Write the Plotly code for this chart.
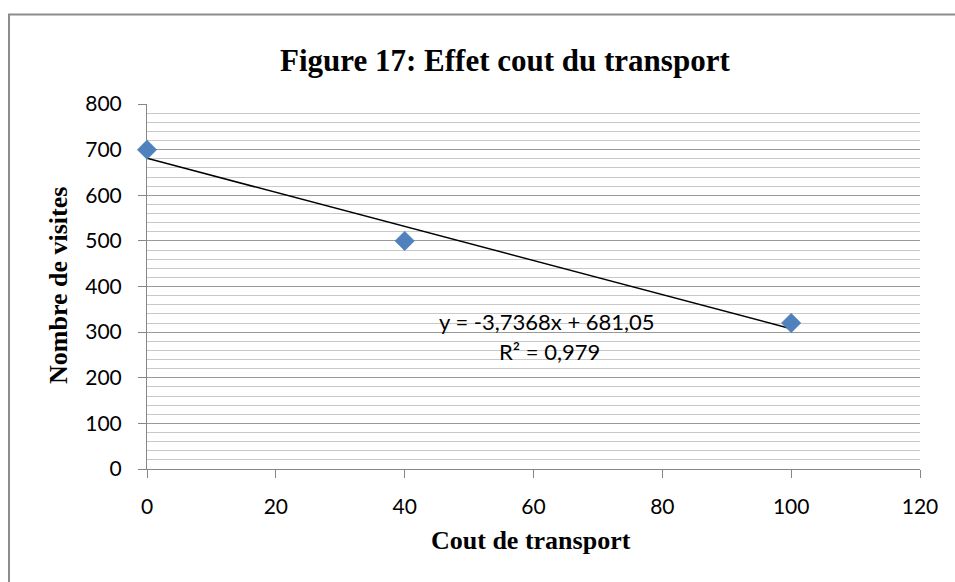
import numpy as np
import plotly.graph_objects as go

# Data
cout_transport = [0, 40, 100]
nombre_visites = [700, 500, 320]
x_ticks = [0, 20, 40, 60, 80, 100, 120]
y_ticks = [0, 100, 200, 300, 400, 500, 600, 700, 800]

slope, intercept = np.polyfit(cout_transport, nombre_visites, 1)
pred = np.polyval([slope, intercept], cout_transport)
ss_res = np.sum((np.array(nombre_visites) - pred) ** 2)
ss_tot = np.sum((np.array(nombre_visites) - np.mean(nombre_visites)) ** 2)
r2 = 1 - ss_res / ss_tot

trend_x = [min(cout_transport), max(cout_transport)]
trend_y = [slope * v + intercept for v in trend_x]

W, H = 955, 582
L, R, T, B = 147, 35, 104, 113
PW, PH = W - L - R, H - T - B

def px(xp):
    return (xp - L) / PW

def py(yp):
    return (H - B - yp) / PH

fig = go.Figure()
fig.add_trace(go.Scatter(
    x=trend_x, y=trend_y, mode="lines",
    line=dict(color="black", width=1.5), showlegend=False, hoverinfo="skip"))
fig.add_trace(go.Scatter(
    x=cout_transport, y=nombre_visites, mode="markers",
    marker=dict(symbol="diamond", size=15, color="#4F81BD",
                line=dict(color="#4A7EBB", width=0.5)),
    cliponaxis=False, showlegend=False))

tick_font = dict(family="Lato, Open Sans, sans-serif", size=21, color="black")
eq_font = dict(family="Lato, Open Sans, sans-serif", size=22, color="black")
serif_bold = "Liberation Serif, Times New Roman, serif"

fig.update_layout(
    width=W, height=H,
    margin=dict(l=L, r=R, t=T, b=B),
    paper_bgcolor="white", plot_bgcolor="white",
    xaxis=dict(range=[0, 120], tickvals=x_ticks, ticks="outside", ticklen=8,
               tickcolor="#868686", showline=True, linecolor="#868686", linewidth=1,
               showgrid=False, zeroline=False, tickfont=tick_font,
               ticklabelstandoff=11, layer="below traces"),
    yaxis=dict(range=[0, 800], tickvals=y_ticks, ticks="outside", ticklen=8,
               tickcolor="#868686", showline=True, linecolor="#868686", linewidth=1,
               showgrid=True, gridcolor="#999999", gridwidth=1, zeroline=False,
               tickfont=tick_font, ticklabelstandoff=12, layer="below traces",
               minor=dict(dtick=20, showgrid=True, gridcolor="#C8C8C8", gridwidth=1, ticks="")),
)

eq_text = "y = %sx + %s" % (f"{slope:.4f}".replace(".", ","), f"{intercept:.2f}".replace(".", ","))
r2_text = "R² = %s" % f"{r2:.3f}".replace(".", ",")

annotations = [
    dict(text="<b>Figure 17: Effet cout du transport</b>", x=px(505), y=py(60),
         xref="paper", yref="paper", xanchor="center", yanchor="middle",
         showarrow=False, font=dict(family=serif_bold, size=31, color="black")),
    dict(text="<b>Cout de transport</b>", x=px(531), y=py(540),
         xref="paper", yref="paper", xanchor="center", yanchor="middle",
         showarrow=False, font=dict(family=serif_bold, size=26, color="black")),
    dict(text="<b>Nombre de visites</b>", x=px(58), y=py(286),
         xref="paper", yref="paper", xanchor="center", yanchor="middle",
         textangle=-90, showarrow=False,
         font=dict(family=serif_bold, size=26, color="black")),
    dict(text=eq_text, x=px(547), y=py(321), xref="paper", yref="paper",
         xanchor="center", yanchor="middle", showarrow=False, font=eq_font),
    dict(text=r2_text, x=px(549), y=py(351), xref="paper", yref="paper",
         xanchor="center", yanchor="middle", showarrow=False, font=eq_font),
]
fig.update_layout(annotations=annotations)

fig.add_shape(type="rect", xref="paper", yref="paper",
              x0=px(9), x1=px(1010), y0=py(620), y1=py(14.5),
              line=dict(color="#8C8C8C", width=2), fillcolor="rgba(0,0,0,0)", layer="below")

fig.write_html("out.html")
